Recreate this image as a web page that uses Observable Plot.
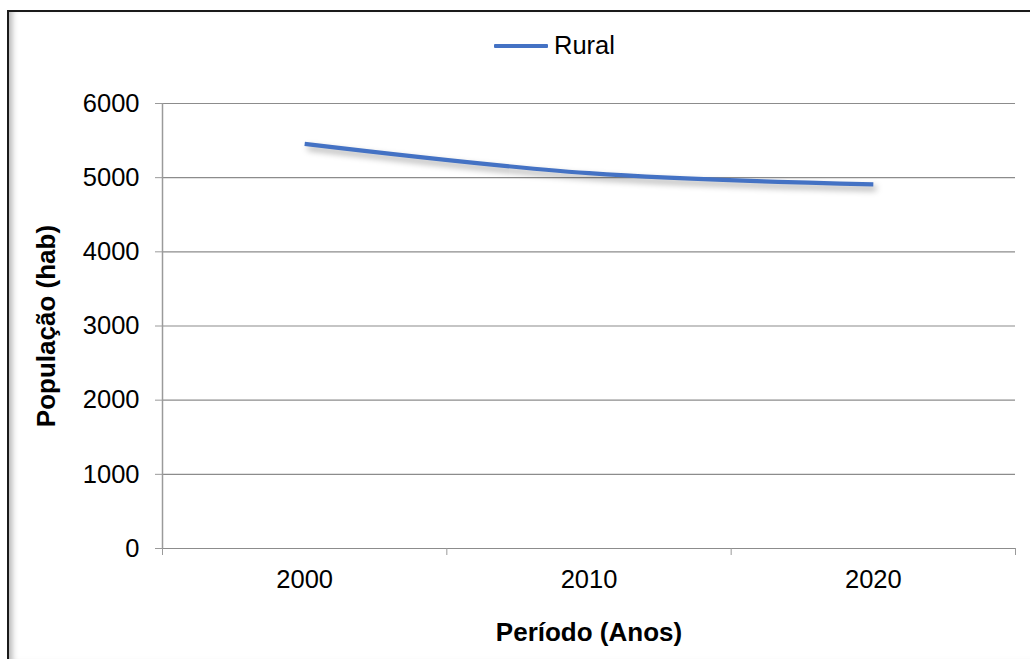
<!DOCTYPE html>
<html>
<head>
<meta charset="utf-8">
<script src="https://cdn.jsdelivr.net/npm/d3@7"></script>
<script src="https://cdn.jsdelivr.net/npm/@observablehq/plot@0.6"></script>
<style>
  html, body { margin: 0; padding: 0; background: #fff; overflow: hidden; }
  body { width: 1030px; height: 659px; position: relative; font-family: "Liberation Sans", Arial, sans-serif; }
  #frame {
    position: absolute; left: 7px; top: 10px; width: 1060px; height: 660px;
    border-left: 2px solid #1a1a1a; border-top: 2px solid #1a1a1a;
    box-shadow: inset 7px 0 6px -4px #b5b5b5, inset 0 -9px 8px -5px #9a9a9a;
    box-sizing: border-box;
  }
  #chart { position: absolute; left: 0; top: 0; }
  #legend {
    position: absolute; left: 494px; top: 31px; display: flex; align-items: center;
    font-size: 25.5px; color: #000;
  }
  #legend .swatch { width: 54px; height: 4px; background: #4472C4; margin-right: 6px; border-radius: 1px; }
  svg [aria-label="y-axis label"] text, svg [aria-label="x-axis label"] text { font-weight: bold; font-size: 26px; }
</style>
</head>
<body>
<div id="frame"></div>
<div id="chart"></div>
<div id="legend"><span class="swatch"></span><span id="legend-text"></span></div>
<script>
// Rural population by census period
const years = [2000, 2010, 2020];
const rural = [5455, 5060, 4910];
const seriesName = "Rural";
const yTicks = [0, 1000, 2000, 3000, 4000, 5000, 6000];
const xBoundaries = [1995, 2005, 2015, 2025];

const data = years.map((y, i) => ({year: y, value: rural[i]}));

document.getElementById("legend-text").textContent = seriesName;

const plot = Plot.plot({
  width: 1030,
  height: 659,
  marginLeft: 162,
  marginRight: 15,
  marginTop: 103,
  marginBottom: 111,
  style: {fontFamily: "'Liberation Sans', Arial, sans-serif", fontSize: "25.5px", color: "#000", background: "transparent"},
  x: {domain: [1995, 2025]},
  y: {domain: [0, 6000]},
  marks: [
    Plot.gridY(yTicks, {stroke: "#8c8c8c", strokeOpacity: 1, strokeWidth: 1.2}),
    Plot.ruleX([1995], {stroke: "#9a9a9a", strokeWidth: 1.5}),
    Plot.axisY(yTicks, {
      tickSize: 7, tickPadding: 16, stroke: "#9a9a9a", strokeOpacity: 1,
      tickFormat: d => String(d),
      label: "População (hab)", labelAnchor: "center", labelArrow: "none", labelOffset: 126,
      fontSize: 25.5
    }),
    Plot.axisX(xBoundaries, {tickSize: 7, tickFormat: () => "", stroke: "#9a9a9a", strokeOpacity: 1, label: null}),
    Plot.axisX(years, {
      tickSize: 0, tickPadding: 21, tickFormat: d => String(d),
      label: "Período (Anos)", labelAnchor: "center", labelArrow: "none", labelOffset: 92,
      fontSize: 25.5
    }),
    Plot.line(data, {
      x: "year", y: "value", stroke: "#4472C4", strokeWidth: 4.2,
      curve: "catmull-rom", strokeLinecap: "butt", strokeLinejoin: "round"
    })
  ]
});

d3.select(plot).selectAll('[aria-label="line"]')
  .style("filter", "drop-shadow(3px 4px 3px rgba(0,0,0,0.35))");

document.getElementById("chart").appendChild(plot);
</script>
</body>
</html>
